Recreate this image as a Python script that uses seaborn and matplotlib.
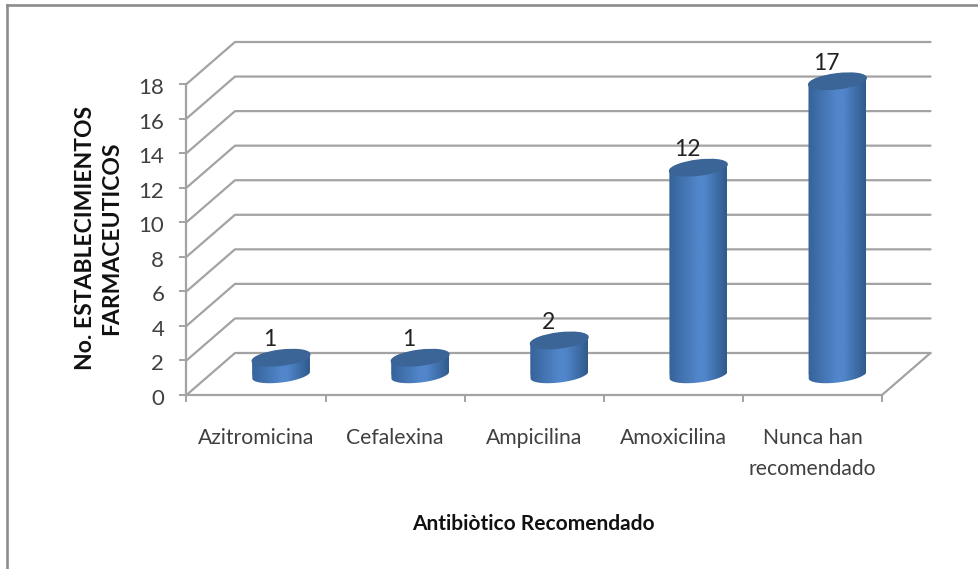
import numpy as np
import pandas as pd
import seaborn as sns
import matplotlib.pyplot as plt
from matplotlib.lines import Line2D
from matplotlib.patches import Ellipse
from matplotlib.path import Path
from matplotlib.transforms import IdentityTransform, ScaledTranslation

# Datos del grafico
antibioticos = ['Azitromicina', 'Cefalexina', 'Ampicilina', 'Amoxicilina', 'Nunca han\nrecomendado']
establecimientos = [1, 1, 2, 12, 17]
ticks_y = [0, 2, 4, 6, 8, 10, 12, 14, 16, 18]

W, H = 979, 569
sns.set_theme(style='white')
plt.rcParams['font.family'] = ['Lato', 'DejaVu Sans']

dados = pd.DataFrame({'antibiotico': antibioticos, 'n': establecimientos})

fig = plt.figure(figsize=(W / 100, H / 100), dpi=100, facecolor='white')
x0, x1, y0, y1 = 186.5, 882, 395, 84
ax = fig.add_axes([x0 / W, 1 - y0 / H, (x1 - x0) / W, (y0 - y1) / H])
ax.patch.set_alpha(0)

# Paredes en perspectiva
px_x = (x1 - x0) / 5
px_y = (y0 - y1) / 18
dx, dy = 48.5 / px_x, 42 / px_y
gris = '#a3a3a3'
for v in ticks_y:
    ax.plot([-0.5, -0.5 + dx, 4.5 + dx], [v, v + dy, v + dy], color=gris, lw=1.6, clip_on=False, zorder=1)
ax.plot([4.5, 4.5 + dx], [0, dy], color=gris, lw=1.6, clip_on=False, zorder=1)

# Cilindros: barras de seaborn desplazadas hacia el fondo
sns.barplot(data=dados, x='antibiotico', y='n', ax=ax, width=58 / px_x, color='#4f81bd', zorder=2)
ax.set_xlim(-0.5, 4.5)
ax.set_ylim(0, 18)
desplaza = ScaledTranslation(25 / 100, 20 / 100, fig.dpi_scale_trans)
trans = ax.transData + desplaza
degradado = np.interp(np.linspace(0, 1, 120), [0, 0.5, 0.62, 1], [0.2, 1, 1, 0])[None, :]
cmap = sns.blend_palette(['#2f5a8c', '#5186cb'], as_cmap=True)

ancho_px, alto_px, tilt = 58, 15, 7
t = np.linspace(0, 2 * np.pi, 181)[:-1]
ex = ancho_px / 2 * np.cos(t) * np.cos(np.radians(tilt)) - alto_px / 2 * np.sin(t) * np.sin(np.radians(tilt))
ey = ancho_px / 2 * np.cos(t) * np.sin(np.radians(tilt)) + alto_px / 2 * np.sin(t) * np.cos(np.radians(tilt))
# del extremo derecho al izquierdo por arriba, y de vuelta por abajo
der, izq = int(np.argmax(ex)), int(np.argmin(ex))
arriba = (np.arange(der, izq + 181) % 180)[:((izq - der) % 180) + 1]
abajo = (np.arange(izq, izq + 181) % 180)[:((der - izq) % 180) + 1]

for barra, valor in zip(ax.patches, establecimientos):
    barra.set_transform(trans)
    barra.set_clip_on(False)
    barra.set_edgecolor('none')
    xa, xb = barra.get_x(), barra.get_x() + barra.get_width()
    xc = (xa + xb) / 2
    px_tapa = trans.transform((xc, valor))
    px_base = trans.transform((xc, 0))
    silueta = Path(np.vstack([
        np.column_stack([px_tapa[0] + ex[arriba], px_tapa[1] + ey[arriba]]),
        np.column_stack([px_base[0] + ex[abajo], px_base[1] + ey[abajo]]),
    ]), closed=False)
    barra.set_clip_path(silueta, IdentityTransform())
    barra.set_clip_box(fig.bbox)
    barra.set_clip_on(True)
    im = ax.imshow(degradado, extent=(xa, xb, -1.5, valor + 1.5), aspect='auto', cmap=cmap, vmin=0, vmax=1,
                   transform=trans, zorder=3)
    im.set_clip_path(silueta, IdentityTransform())
    im.set_clip_box(fig.bbox)
    ax.set_xlim(-0.5, 4.5)
    ax.set_ylim(0, 18)
    # Tapa del cilindro
    ax.add_patch(Ellipse(px_tapa, ancho_px, alto_px, angle=tilt, color='#3b6596', zorder=4,
                         transform=IdentityTransform(), clip_on=False))
    ax.annotate(str(valor), (xc, valor), xycoords=trans, xytext=(-8, 5.5), textcoords='offset points',
                ha='center', va='bottom', fontsize=16.5, color='#222222', zorder=5)

# Ejes
sns.despine(ax=ax, top=True, right=True)
for lado in ['left', 'bottom']:
    ax.spines[lado].set_color(gris)
    ax.spines[lado].set_linewidth(1.6)
ax.set_yticks(ticks_y)
ax.set_xticks(np.arange(-0.5, 5), labels=[])
ax.tick_params(axis='both', length=5, width=1.4, color=gris, left=True, bottom=True)
ax.tick_params(axis='y', labelsize=16, labelcolor='#404040', pad=11)
baja = ScaledTranslation(0, -2 / 100, fig.dpi_scale_trans)
for etiqueta in ax.get_yticklabels():
    etiqueta.set_transform(etiqueta.get_transform() + baja)
for i, nombre in enumerate(antibioticos):
    ax.text(i, -1.9, nombre, ha='center', va='top', fontsize=15.2, color='#404040', linespacing=1.7)
ax.set_xlabel('')
ax.set_ylabel('')

fig.text(533 / W, 1 - 524 / H, 'Antibiòtico Recomendado', ha='center', va='center', fontsize=15,
         fontweight='bold', color='#111111')
fig.text(98.5 / W, 1 - 238 / H, 'No. ESTABLECIMIENTOS\nFARMACEUTICOS', ha='center', va='center', rotation=90,
         fontsize=16.5, fontweight='bold', color='#111111', linespacing=1.28)

# Marco exterior (solo arriba e izquierda)
marco = '#8c8c8c'
fig.add_artist(Line2D([7 / W, 7 / W], [0, 1 - 5 / H], color=marco, lw=1.9, solid_capstyle='projecting'))
fig.add_artist(Line2D([7 / W, 1], [1 - 5 / H, 1 - 5 / H], color=marco, lw=1.9, solid_capstyle='projecting'))

fig.savefig('out.png', dpi=100)
